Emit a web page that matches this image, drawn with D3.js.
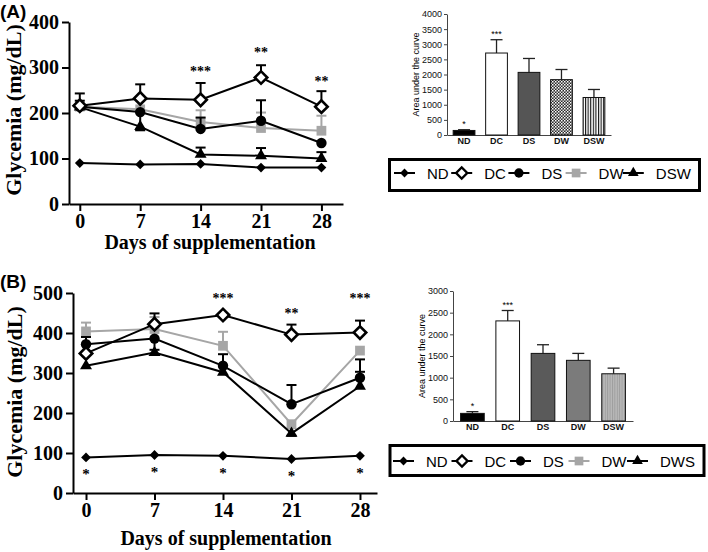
<!DOCTYPE html>
<html>
<head>
<meta charset="utf-8">
<script src="https://d3js.org/d3.v7.min.js"></script>
<style>
  body { margin: 0; background: #fff; }
</style>
</head>
<body>
<script>
// ---- data ----
var days = [0, 7, 14, 21, 28];
var seriesA = ["ND", "DC", "DS", "DW", "DSW"];
var seriesB = ["ND", "DC", "DS", "DW", "DWS"];
var barGroups = ["ND", "DC", "DS", "DW", "DSW"];

// panel A, glycemia (mg/dL) per day
var glyA_ND  = [90, 87, 88, 80, 80];
var glyA_DC  = [216, 232, 229, 278, 214];
var glyA_DS  = [214, 202, 165, 183, 134];
var glyA_DW  = [214, 208, 180, 167, 161];
var glyA_DSW = [213, 170, 109, 106, 100];
// error (SEM), negative = whisker drawn downward
var errA_ND  = [0, 0, 0, 0, 0];
var errA_DC  = [27, 31, 37, 27, 34];
var errA_DS  = [0, -38, 25, 45, 0];
var errA_DW  = [0, 0, 26, 34, 33];
var errA_DSW = [14, -8, 15, 17, 14];

// panel B
var glyB_ND  = [89, 95, 93, 85, 93];
var glyB_DC  = [349, 422, 445, 396, 401];
var glyB_DS  = [372, 386, 318, 222, 288];
var glyB_DW  = [404, 410, 368, 172, 356];
var glyB_DWS = [318, 351, 302, 149, 267];
var errB_ND  = [0, 0, 0, 0, 0];
var errB_DC  = [0, 27, 0, 25, 30];
var errB_DS  = [18, -28, 29, 48, 46];
var errB_DW  = [22, 30, 35, 0, 0];
var errB_DWS = [0, 0, 0, -6, 36];

// significance marks (day, text, level in mg/dL)
var sigA_days = [14, 21, 28], sigA_text = ["***", "**", "**"], sigA_level = [294, 336, 272];
var sigB_days = [14, 21, 28], sigB_text = ["***", "**", "***"], sigB_level = [490, 452, 490];

// area under the curve insets
var aucA = [150, 2710, 2070, 1830, 1240];
var aucA_err = [25, 440, 460, 335, 265];
var aucA_sig = ["*", "***", "", "", ""];
var aucB = [176, 2310, 1560, 1400, 1090];
var aucB_err = [40, 240, 200, 160, 130];
var aucB_sig = ["*", "***", "", "", ""];

var yTicksA = [0, 100, 200, 300, 400];
var yTicksB = [0, 100, 200, 300, 400, 500];
var aucTicksA = [0, 500, 1000, 1500, 2000, 2500, 3000, 3500, 4000];
var aucTicksB = [0, 500, 1000, 1500, 2000, 2500, 3000];

// ---- drawing ----
var W = 708, H = 552;
var svg = d3.select("body").append("svg").attr("width", W).attr("height", H);

var defs = svg.append("defs");
var chk = defs.append("pattern").attr("id", "checkA").attr("patternUnits", "userSpaceOnUse")
  .attr("width", 3).attr("height", 3);
chk.append("rect").attr("width", 3).attr("height", 3).attr("fill", "#2a2a2a");
chk.append("rect").attr("width", 1.5).attr("height", 1.5).attr("fill", "#fff");
chk.append("rect").attr("x", 1.5).attr("y", 1.5).attr("width", 1.5).attr("height", 1.5).attr("fill", "#ddd");
var stA = defs.append("pattern").attr("id", "stripeA").attr("patternUnits", "userSpaceOnUse")
  .attr("width", 2.6).attr("height", 4);
stA.append("rect").attr("width", 2.6).attr("height", 4).attr("fill", "#fff");
stA.append("rect").attr("width", 1.1).attr("height", 4).attr("fill", "#111");
var stB = defs.append("pattern").attr("id", "stripeB").attr("patternUnits", "userSpaceOnUse")
  .attr("width", 2.4).attr("height", 4);
stB.append("rect").attr("width", 2.4).attr("height", 4).attr("fill", "#b8b8b8");
stB.append("rect").attr("width", 0.9).attr("height", 4).attr("fill", "#9c9c9c");

var serif = "'Liberation Serif', 'Times New Roman', serif";
var sans = "'Liberation Sans', Arial, sans-serif";

// marker style per series index
var markStyles = [
  {sym: d3.symbolSquare, size: 48, rot: 45, fill: "#000", stroke: "none", sw: 0, col: "#000"},
  {sym: d3.symbolSquare, size: 78, rot: 45, fill: "#fff", stroke: "#000", sw: 2.6, col: "#000"},
  {sym: d3.symbolCircle, size: 85, rot: 0, fill: "#000", stroke: "none", sw: 0, col: "#000"},
  {sym: d3.symbolSquare, size: 95, rot: 0, fill: "#a6a6a6", stroke: "none", sw: 0, col: "#a6a6a6"},
  {sym: d3.symbolTriangle, size: 62, rot: 0, fill: "#000", stroke: "none", sw: 0, col: "#000"}
];
var drawOrder = [3, 4, 2, 0, 1];

function linePanel(x, y, vals, errs, yTicks, sigDays, sigText, sigLevel, ndStars) {
  var g = svg.append("g");

  var ax = g.append("g").attr("transform", "translate(0," + y.range()[0] + ")")
    .call(d3.axisBottom(x).tickValues(days).tickSize(7).tickSizeOuter(0).tickPadding(3));
  var ay = g.append("g").attr("transform", "translate(" + x.range()[0] + ",0)")
    .call(d3.axisLeft(y).tickValues(yTicks).tickSize(7).tickSizeOuter(0).tickPadding(3));
  [ax, ay].forEach(function (a) {
    a.select(".domain").attr("stroke", "#000").attr("stroke-width", 2);
    a.selectAll(".tick line").attr("stroke", "#000").attr("stroke-width", 2);
    a.selectAll(".tick text").attr("font-family", serif).attr("font-weight", "bold")
      .attr("font-size", 20).attr("fill", "#000");
  });

  var line = d3.line().x(function (d, i) { return x(days[i]); }).y(function (d) { return y(d); });

  drawOrder.forEach(function (s) {
    var st = markStyles[s];
    var sg = g.append("g");
    // error whiskers
    vals[s].forEach(function (v, i) {
      var e = errs[s][i];
      if (!e) return;
      var cx = x(days[i]);
      sg.append("line").attr("x1", cx).attr("x2", cx).attr("y1", y(v)).attr("y2", y(v + e))
        .attr("stroke", st.col).attr("stroke-width", 2);
      sg.append("line").attr("x1", cx - 5).attr("x2", cx + 5).attr("y1", y(v + e)).attr("y2", y(v + e))
        .attr("stroke", st.col).attr("stroke-width", 2);
    });
    sg.append("path").datum(vals[s]).attr("d", line).attr("fill", "none")
      .attr("stroke", st.col).attr("stroke-width", 2);
    sg.selectAll("path.mk").data(vals[s]).enter().append("path").attr("class", "mk")
      .attr("d", d3.symbol(st.sym, st.size))
      .attr("transform", function (d, i) {
        return "translate(" + x(days[i]) + "," + y(d) + ") rotate(" + st.rot + ")";
      })
      .attr("fill", st.fill).attr("stroke", st.stroke).attr("stroke-width", st.sw);
  });

  g.selectAll("text.sig").data(sigText).enter().append("text").attr("class", "sig")
    .attr("x", function (d, i) { return x(sigDays[i]); })
    .attr("y", function (d, i) { return y(sigLevel[i]) + 6; })
    .attr("text-anchor", "middle").attr("font-family", serif).attr("font-weight", "bold")
    .attr("font-size", 14).attr("fill", "#000").text(function (d) { return d; });

  if (ndStars) {
    g.selectAll("text.nds").data(vals[0]).enter().append("text").attr("class", "nds")
      .attr("x", function (d, i) { return x(days[i]); })
      .attr("y", function (d) { return y(d) + 22; })
      .attr("text-anchor", "middle").attr("font-family", serif).attr("font-weight", "bold")
      .attr("font-size", 15).attr("fill", "#000").text("*");
  }
  return g;
}

function barInset(x, y, vals, errs, sigs, ticks, fills, labelX) {
  var g = svg.append("g");
  var ay = g.append("g").attr("transform", "translate(" + x.range()[0] + ",0)")
    .call(d3.axisLeft(y).tickValues(ticks).tickFormat(d3.format("d"))
      .tickSize(3).tickSizeOuter(0).tickPadding(2));
  var ax = g.append("g").attr("transform", "translate(0," + y.range()[0] + ")")
    .call(d3.axisBottom(x).tickSize(0).tickPadding(2.5));
  [ax, ay].forEach(function (a) {
    a.select(".domain").attr("stroke", "#444").attr("stroke-width", 1);
    a.selectAll(".tick line").attr("stroke", "#444");
    a.selectAll(".tick text").attr("font-family", sans).attr("font-size", 9).attr("fill", "#111");
  });
  ax.selectAll(".tick text").attr("font-weight", "bold");

  barGroups.forEach(function (k, i) {
    var cx = x(k) + x.bandwidth() / 2;
    g.append("line").attr("x1", cx).attr("x2", cx).attr("y1", y(vals[i])).attr("y2", y(vals[i] + errs[i]))
      .attr("stroke", "#222").attr("stroke-width", 1.3);
    g.append("line").attr("x1", cx - 6).attr("x2", cx + 6)
      .attr("y1", y(vals[i] + errs[i])).attr("y2", y(vals[i] + errs[i]))
      .attr("stroke", "#222").attr("stroke-width", 1.3);
  });
  g.selectAll("rect.bar").data(vals).enter().append("rect").attr("class", "bar")
    .attr("x", function (d, i) { return x(barGroups[i]); })
    .attr("y", function (d) { return y(d); })
    .attr("width", x.bandwidth())
    .attr("height", function (d) { return y(0) - y(d); })
    .attr("fill", function (d, i) { return fills[i]; })
    .attr("stroke", "#111").attr("stroke-width", 1);
  g.selectAll("text.sig").data(sigs).enter().append("text").attr("class", "sig")
    .attr("x", function (d, i) { return x(barGroups[i]) + x.bandwidth() / 2; })
    .attr("y", function (d, i) { return y(vals[i] + errs[i]) - 3; })
    .attr("text-anchor", "middle").attr("font-family", sans).attr("font-size", 9)
    .text(function (d) { return d; });

  var yc = (y.range()[0] + y.range()[1]) / 2;
  g.append("text").attr("transform", "translate(" + labelX + "," + yc + ") rotate(-90)")
    .attr("text-anchor", "middle").attr("font-family", sans).attr("font-size", 9)
    .text("Area under the curve");
  return g;
}

function legend(names, x0, stride, yc, box) {
  var g = svg.append("g");
  g.append("rect").attr("x", box[0]).attr("y", box[1]).attr("width", box[2]).attr("height", box[3])
    .attr("fill", "none").attr("stroke", "#000").attr("stroke-width", 3);
  var it = g.selectAll("g.it").data(names).enter().append("g").attr("class", "it")
    .attr("transform", function (d, i) { return "translate(" + (x0 + i * stride) + "," + yc + ")"; });
  it.append("line").attr("x1", 0).attr("x2", 21).attr("y1", 0).attr("y2", 0)
    .attr("stroke", function (d, i) { return markStyles[i].col; }).attr("stroke-width", 2);
  it.append("path")
    .attr("d", function (d, i) { return d3.symbol(markStyles[i].sym, markStyles[i].size * 0.8)(); })
    .attr("transform", function (d, i) { return "translate(10.5,0) rotate(" + markStyles[i].rot + ")"; })
    .attr("fill", function (d, i) { return markStyles[i].fill; })
    .attr("stroke", function (d, i) { return markStyles[i].stroke; })
    .attr("stroke-width", function (d, i) { return markStyles[i].sw * 0.9; });
  it.append("text").attr("x", 33).attr("y", 5.5).attr("font-family", sans).attr("font-size", 15)
    .text(function (d) { return d; });
}

// panel A
var xA = d3.scaleLinear().domain([-1.25, 30.5]).range([69, 343]);
var yA = d3.scaleLinear().domain([0, 400]).range([204, 22]);
linePanel(xA, yA, [glyA_ND, glyA_DC, glyA_DS, glyA_DW, glyA_DSW],
  [errA_ND, errA_DC, errA_DS, errA_DW, errA_DSW], yTicksA, sigA_days, sigA_text, sigA_level, false);

// panel B
var xB = d3.scaleLinear().domain([-1.33, 29.74]).range([73, 377]);
var yB = d3.scaleLinear().domain([0, 500]).range([493, 293]);
linePanel(xB, yB, [glyB_ND, glyB_DC, glyB_DS, glyB_DW, glyB_DWS],
  [errB_ND, errB_DC, errB_DS, errB_DW, errB_DWS], yTicksB, sigB_days, sigB_text, sigB_level, true);

// titles
svg.append("text").attr("x", 0).attr("y", 18).attr("font-family", sans).attr("font-weight", "bold")
  .attr("font-size", 19).text("(A)");
svg.append("text").attr("x", 0).attr("y", 288).attr("font-family", sans).attr("font-weight", "bold")
  .attr("font-size", 19).text("(B)");
[[21, 110], [22, 392]].forEach(function (p) {
  svg.append("text").attr("transform", "translate(" + p[0] + "," + p[1] + ") rotate(-90)")
    .attr("text-anchor", "middle").attr("font-family", serif).attr("font-weight", "bold")
    .attr("font-size", 22).text("Glycemia (mg/dL)");
});
[[210, 249], [226, 545]].forEach(function (p) {
  svg.append("text").attr("x", p[0]).attr("y", p[1])
    .attr("text-anchor", "middle").attr("font-family", serif).attr("font-weight", "bold")
    .attr("font-size", 20).text("Days of supplementation");
});

// insets
var bxA = d3.scaleBand().domain(barGroups).range([447, 611]).paddingInner(0.33).paddingOuter(0.19);
var byA = d3.scaleLinear().domain([0, 4000]).range([135, 14]);
barInset(bxA, byA, aucA, aucA_err, aucA_sig, aucTicksA,
  ["#000", "#fff", "#555", "url(#checkA)", "url(#stripeA)"], 419);

var bxB = d3.scaleBand().domain(barGroups).range([453, 633]).paddingInner(0.33).paddingOuter(0.215);
var byB = d3.scaleLinear().domain([0, 3000]).range([421, 291]);
barInset(bxB, byB, aucB, aucB_err, aucB_sig, aucTicksB,
  ["#000", "#fff", "#5a5a5a", "#7b7b7b", "url(#stripeB)"], 425);

// legends
legend(seriesA, 394, 57.2, 173, [389.5, 159.5, 310, 31]);
legend(seriesB, 393, 58.5, 461, [390, 445.5, 314, 30]);
</script>
</body>
</html>
